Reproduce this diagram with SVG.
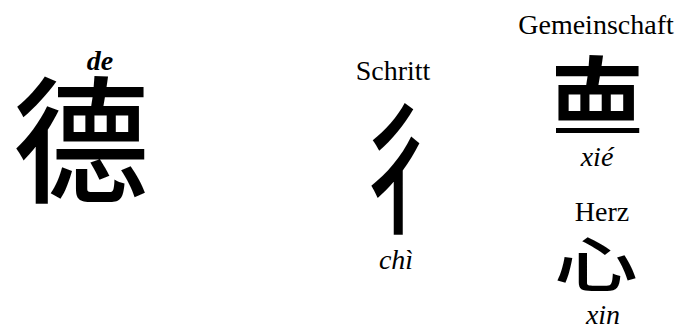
<svg xmlns="http://www.w3.org/2000/svg" width="682" height="329" viewBox="0 0 682 329">
<style>
.lbl{font-family:"Liberation Serif","Times New Roman",serif;font-size:28px;fill:#000;text-anchor:middle}
.it{font-style:italic}
.bi{font-style:italic;font-weight:bold}
.cjk{font-family:"Noto Sans CJK SC","Noto Sans CJK TC",sans-serif;fill:#000;text-anchor:middle;font-weight:500}
</style>
<defs>
<clipPath id="topRight"><rect x="556" y="44" width="96" height="89"/></clipPath>
</defs>
<rect width="682" height="329" fill="#fff"/>
<g id="de">
<text class="cjk" x="81" y="192" font-size="136">德</text>
<text class="lbl bi" x="100" y="70">de</text>
</g>
<g id="chi">
<text class="lbl" x="393" y="80">Schritt</text>
<text class="cjk" x="398" y="222" font-size="146" transform="translate(398,0) scale(0.6,1) translate(-398,0)">彳</text>
<text class="lbl it" x="396" y="269">chì</text>
</g>
<g id="xie">
<text class="lbl" x="596" y="34">Gemeinschaft</text>
<g clip-path="url(#topRight)">
<text class="cjk" x="576" y="171" font-size="136">德</text>
</g>
<text class="lbl it" x="597" y="166">xié</text>
</g>
<g id="xin">
<text class="lbl" x="602" y="221">Herz</text>
<text class="cjk" x="596" y="0" font-size="84" transform="translate(0,287) scale(1,0.72)">心</text>
<text class="lbl it" x="603" y="324">xin</text>
</g>
<g id="connectors"></g>
</svg>
